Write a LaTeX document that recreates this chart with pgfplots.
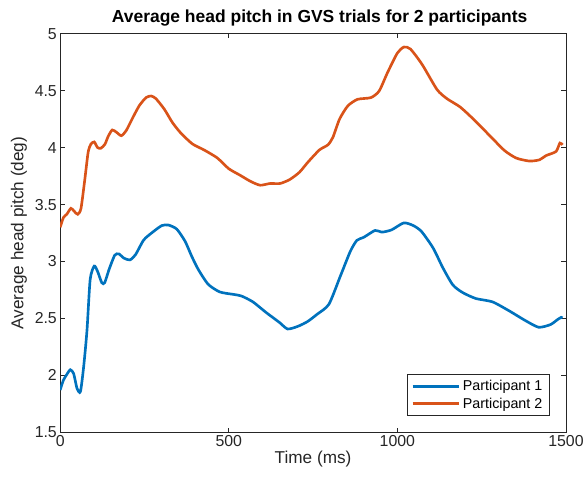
\documentclass[border=0pt]{standalone}
\usepackage{pgfplots}
\pgfplotsset{compat=1.18}
\usepackage{fontspec}
\setmainfont{Liberation Sans}
\usetikzlibrary{calc}
\definecolor{mblue}{rgb}{0,0.447,0.741}
\definecolor{morange}{rgb}{0.85,0.325,0.098}
\definecolor{mgray}{rgb}{0.15,0.15,0.15}
\begin{document}
\begin{tikzpicture}
\begin{axis}[
  scale only axis,
  width=382.5pt, height=301.5pt,
  xmin=0, xmax=1500, ymin=1.5, ymax=5,
  xtick={0,500,1000,1500},
  ytick={1.5,2,2.5,3,3.5,4,4.5,5},
  yticklabels={1.5,2,2.5,3,3.5,4,4.5,5},
  /pgf/number format/assume math mode=true,
  /pgf/number format/set thousands separator={},
  tick align=inside,
  tick pos=both,
  major tick length=3.5pt,
  axis line style={mgray, line width=0.5pt},
  every tick/.style={mgray, line width=0.5pt},
  tick label style={font=\fontsize{12}{14}\selectfont, text=mgray},
  xticklabel style={yshift=1pt},
  yticklabel style={xshift=1pt},
  label style={font=\fontsize{13}{15}\selectfont, text=mgray},
  title style={font=\bfseries\fontsize{13.2}{15}\selectfont, yshift=-4pt, xshift=5pt},
  title={Average head pitch in GVS trials for 2 participants},
  xlabel={Time (ms)},
  ylabel={Average head pitch (deg)},
  xlabel style={yshift=4pt},
  ylabel style={yshift=-1pt},
  legend style={at={(0.967,0.042)}, anchor=south east, draw=mgray, line width=0.5pt,
    font=\fontsize{10.8}{12}\selectfont, cells={anchor=west}, inner xsep=3pt, inner ysep=2pt, row sep=0pt},
  legend image code/.code={\draw[#1, line width=2.2pt] (0pt,0pt) -- (35pt,0pt);},
]
\addplot[mblue, line width=2pt, smooth, tension=0.4] coordinates {
(0,1.872)(9.7,1.959)(20,2.01)(30,2.05)(40,2.016)(50,1.886)(60,1.857)(69.6,2.074)(79.5,2.394)(89,2.843)
(101,2.96)(110.6,2.916)(123.5,2.814)(132,2.814)(145,2.93)(161.7,3.055)(174,3.067)(189,3.03)
(206.8,3.014)(223.5,3.06)(248,3.19)(277,3.264)(301.8,3.316)(321.5,3.32)(346,3.284)(370.6,3.177)
(390,3.047)(409.7,2.93)(439,2.80)(473.5,2.733)(512.6,2.712)(537,2.698)(571.5,2.646)(610.6,2.553)
(650,2.466)(674.4,2.408)(704,2.43)(733,2.472)(762.6,2.538)(797,2.625)(831,2.872)(860.6,3.09)
(880,3.186)(900,3.212)(934,3.273)(953.8,3.258)(983,3.278)(1019,3.339)(1047,3.316)(1071.5,3.264)
(1106,3.119)(1135,2.945)(1164.7,2.794)(1194,2.727)(1233,2.675)(1282,2.646)(1331,2.568)(1380,2.481)
(1419,2.423)(1453.8,2.446)(1475,2.49)(1486,2.51)(1490,2.505)
};
\addlegendentry{Participant 1}
\addplot[morange, line width=2pt, smooth, tension=0.4] coordinates {
(0,3.30)(9.7,3.386)(19.6,3.415)(32,3.467)(42,3.44)(52,3.415)(61.8,3.467)(73.5,3.73)(83,3.96)
(91,4.03)(101,4.05)(111,4.00)(121,3.995)(132.8,4.03)(142.6,4.10)(154.5,4.155)(167,4.135)
(181.4,4.105)(196,4.15)(215.7,4.265)(235,4.37)(255,4.44)(270,4.453)(284,4.43)(309,4.337)
(333,4.22)(357.8,4.128)(392,4.033)(426.5,3.98)(465.7,3.91)(500,3.815)(534,3.757)(563.7,3.705)
(593,3.67)(622.5,3.685)(652,3.685)(681,3.72)(710,3.785)(735,3.873)(769,3.98)(794,4.024)
(808.8,4.09)(828.5,4.25)(853,4.366)(882,4.424)(921.5,4.439)(946,4.497)(970.6,4.657)(1000,4.83)
(1019.6,4.883)(1039,4.865)(1073.5,4.73)(1117.6,4.51)(1147,4.43)(1186,4.357)(1225.5,4.25)
(1274,4.105)(1318,3.974)(1353,3.908)(1392,3.882)(1421.6,3.893)(1441,3.93)(1470.6,3.966)
(1482,4.04)(1490,4.024)
};
\addlegendentry{Participant 2}
\end{axis}
\path ($(current axis.south west)+(-45.5pt,-36pt)$) rectangle ($(current axis.north east)+(13pt,25.5pt)$);
\end{tikzpicture}
\end{document}
